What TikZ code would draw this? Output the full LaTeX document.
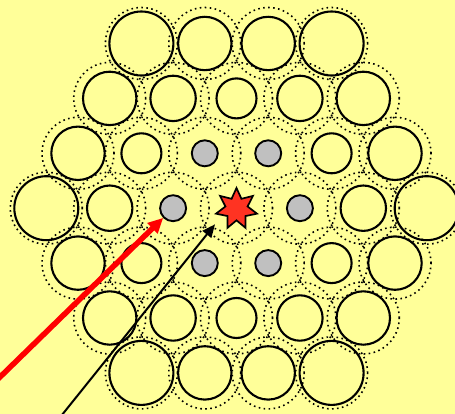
\documentclass[tikz,border=0pt]{standalone}
\usetikzlibrary{arrows.meta,shapes.geometric}
\definecolor{bgyellow}{HTML}{FFFF99}
\definecolor{coregray}{HTML}{C0C0C0}
\definecolor{starred}{HTML}{FF3322}
\definecolor{arrowred}{HTML}{FF0000}
\begin{document}
\begin{tikzpicture}[x=1pt,y=-1pt,
  ringc/.style={circle,draw=black,line width=2.1pt,inner sep=0pt},
  graydot/.style={circle,draw=black,fill=coregray,line width=1.9pt,inner sep=0pt,minimum size=26pt},
  starnode/.style={star,star points=7,star point ratio=1.85,draw=black,fill=starred,line width=1.7pt,inner sep=0pt,minimum size=42pt},
  dotring/.style={line width=1.6pt,dash pattern=on 1.6pt off 3.4pt},
  redarrow/.style={draw=arrowred,line width=5.5pt,-{Triangle[length=15pt,width=14pt]}},
  blackarrow/.style={draw=black,line width=2pt,-{Triangle[length=13pt,width=11pt]}}
]
\fill[bgyellow] (0,0) rectangle (455,414);
\useasboundingbox (0,0) rectangle (455,414);
\foreach \row in {-3,...,3}{
  \pgfmathtruncatemacro{\ar}{abs(\row)}
  \pgfmathtruncatemacro{\cmax}{6-\ar}
  \pgfmathtruncatemacro{\cmin}{-\cmax}
  \pgfmathtruncatemacro{\cnext}{2-\cmax}
  \foreach \col in {\cmin,\cnext,...,\cmax}{
    \pgfmathtruncatemacro{\ac}{abs(\col)}
    \pgfmathtruncatemacro{\dd}{max(\ar,(\ac+\ar)/2)}
    \pgfmathtruncatemacro{\corner}{or(and(\ar==\dd,\ac==\dd),and(\ar==0,\ac==2*\dd))}
    \pgfmathtruncatemacro{\cc}{\col+6}
    \pgfmathtruncatemacro{\rr}{\row+3}
    \pgfmathsetmacro{\px}{236.5+31.7*\col}
    \pgfmathsetmacro{\py}{208.2+54.9*\row}
    \ifnum\dd=0
      \node[starnode] (p\cc x\rr) at (\px,\py+0.8) {};
    \else\ifnum\dd=1
      \node[graydot] (p\cc x\rr) at (\px,\py) {};
    \else
      \ifnum\dd=2
        \ifnum\corner=1 \def\dia{45.4}\else\def\dia{40}\fi
      \else
        \ifnum\corner=1 \def\dia{64}\else\def\dia{53.4}\fi
      \fi
      \node[ringc,minimum size=\dia pt] (p\cc x\rr) at (\px,\py) {};
    \fi\fi
    \draw[dotring] (\px,\py) circle[radius=36pt];
  }
}
\coordinate (redtail) at (-6,382.9);
\coordinate (blacktail) at (60,417.4);
\coordinate (blacktip) at (215,224.3);
\draw[redarrow] (redtail) -- (p4x3);
\draw[blackarrow] (blacktail) -- (blacktip);
\end{tikzpicture}
\end{document}
